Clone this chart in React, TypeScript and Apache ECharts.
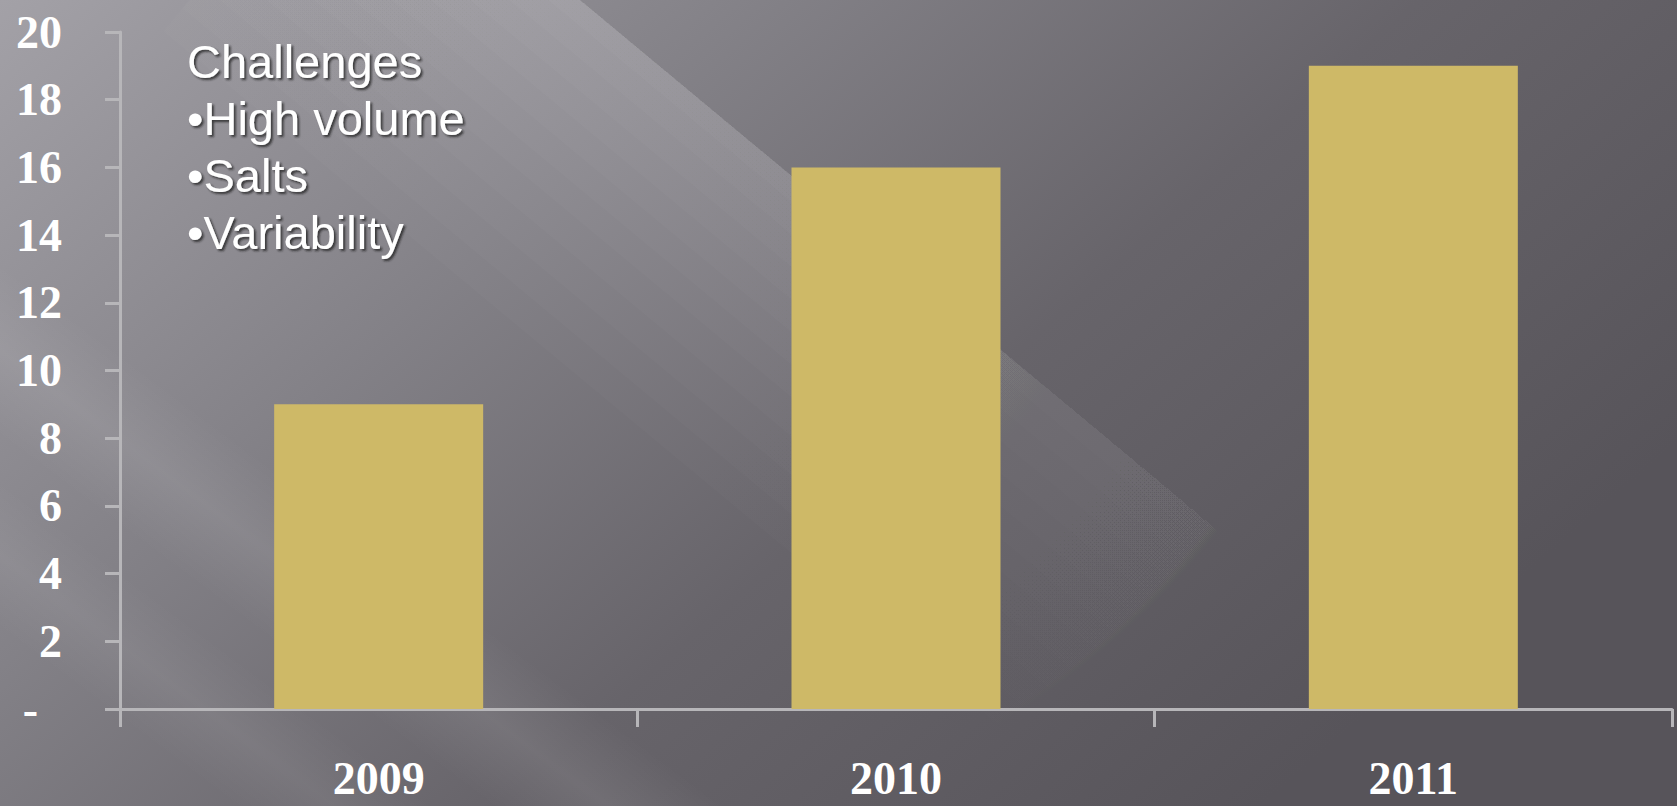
import React, { useEffect, useRef } from "react";
import * as echarts from "echarts";

const categories = ["2009", "2010", "2011"];
const values = [9, 16, 19];
const yMin = 0;
const yMax = 20;
const yInterval = 2;
const noteLines = ["Challenges", "•High volume", "•Salts", "•Variability"];

const W = 1677;
const H = 806;
const axisColor = "#b7b6b9";
const labelFont = "'Liberation Serif', 'DejaVu Serif', serif";

function band(cx: number, cy: number, back: number, fwd: number, half: number, stops: { offset: number; color: string }[]) {
  const dx = 0.8, dy = 0.6;
  const nx = 0.6, ny = -0.8;
  const sx = cx - back * dx, sy = cy - back * dy;
  const ex = cx + fwd * dx, ey = cy + fwd * dy;
  return {
    type: "polygon",
    z: -10,
    silent: true,
    shape: {
      points: [
        [sx - half * nx, sy - half * ny],
        [ex - half * nx, ey - half * ny],
        [ex + half * nx, ey + half * ny],
        [sx + half * nx, sy + half * ny],
      ],
    },
    style: {
      fill: new echarts.graphic.LinearGradient(
        cx - half * nx, cy - half * ny, cx + half * nx, cy + half * ny, stops, true
      ),
    },
  };
}

// light wedge with a sharp upper edge, fading with distance from a glow centre
function wedge(ex: number, ey: number, w: number, alpha: number) {
  const dx = 0.77, dy = 0.64;
  const nx = -0.64, ny = 0.77;
  const x0 = ex - 300 * dx, y0 = ey - 300 * dy;
  const x1 = ex + 1500 * dx, y1 = ey + 1500 * dy;
  return {
    type: "polygon",
    z: -9,
    silent: true,
    shape: {
      points: [
        [x0, y0],
        [x1, y1],
        [x1 + w * nx, y1 + w * ny],
        [x0 + w * nx, y0 + w * ny],
      ],
    },
    style: {
      fill: new echarts.graphic.RadialGradient(560, 0, 950, [
        { offset: 0, color: `rgba(255,255,255,${alpha})` },
        { offset: 0.5, color: `rgba(255,255,255,${alpha * 0.7})` },
        { offset: 1, color: "rgba(255,255,255,0)" },
      ], true),
    },
  };
}

const wedgeLayers = [20, 45, 70, 95, 120, 145, 170, 200, 230, 260, 290];

export default function App() {
  const ref = useRef<HTMLDivElement>(null);
  useEffect(() => {
    document.body.style.margin = "0";
    if (!ref.current) return;
    const chart = echarts.init(ref.current, null, { renderer: "svg" });
    chart.setOption({
      animation: false,
      backgroundColor: new echarts.graphic.LinearGradient(0, 0, 1, 0.55, [
        { offset: 0, color: "#a3a1a7" },
        { offset: 0.35, color: "#838187" },
        { offset: 0.65, color: "#67646a" },
        { offset: 1, color: "#57545a" },
      ]),
      grid: { left: 120, right: 5, top: 32, bottom: 97, containLabel: false },
      graphic: [
        ...wedgeLayers.map((w) => wedge(580, 0, w, 0.02)),
        band(200, 500, 400, 900, 70, [
          { offset: 0, color: "rgba(255,255,255,0)" },
          { offset: 0.5, color: "rgba(255,255,255,0.08)" },
          { offset: 1, color: "rgba(255,255,255,0)" },
        ]),
        band(60, 600, 300, 900, 60, [
          { offset: 0, color: "rgba(255,255,255,0)" },
          { offset: 0.5, color: "rgba(255,255,255,0.06)" },
          { offset: 1, color: "rgba(255,255,255,0)" },
        ]),
        {
          type: "text",
          left: 187,
          top: 33,
          z: 10,
          style: {
            text: noteLines.join("\n"),
            fill: "#ffffff",
            fontFamily: "'Liberation Sans', Arial, sans-serif",
            fontSize: 47,
            lineHeight: 57,
            textShadowColor: "rgba(30,30,30,0.75)",
            textShadowBlur: 2,
            textShadowOffsetX: 2,
            textShadowOffsetY: 2,
          },
        },
      ],
      xAxis: {
        type: "category",
        data: categories,
        boundaryGap: true,
        axisLine: { show: true, lineStyle: { color: axisColor, width: 3 } },
        axisTick: { show: true, length: 18, lineStyle: { color: axisColor, width: 3 } },
        axisLabel: {
          color: "#ffffff",
          fontFamily: labelFont,
          fontWeight: "bold",
          fontSize: 46,
          lineHeight: 40,
          margin: 49,
        },
        splitLine: { show: false },
      },
      yAxis: {
        type: "value",
        min: yMin,
        max: yMax,
        interval: yInterval,
        axisLine: { show: true, lineStyle: { color: axisColor, width: 3 } },
        axisTick: { show: true, length: 15, lineStyle: { color: axisColor, width: 3 } },
        splitLine: { show: false },
        axisLabel: {
          color: "#ffffff",
          fontFamily: labelFont,
          fontWeight: "bold",
          fontSize: 46,
          margin: 58,
          formatter: (v: number) => (v === 0 ? "{z|-}" : String(v)),
          rich: {
            z: {
              color: "#ffffff",
              fontFamily: labelFont,
              fontWeight: "bold",
              fontSize: 46,
              padding: [0, 24, 0, 0],
            },
          },
        },
      },
      series: [
        {
          type: "bar",
          data: values,
          barWidth: "40.4%",
          itemStyle: { color: "#ceb967" },
        },
      ],
    });
    return () => chart.dispose();
  }, []);
  return <div ref={ref} style={{ width: W, height: H }} />;
}
